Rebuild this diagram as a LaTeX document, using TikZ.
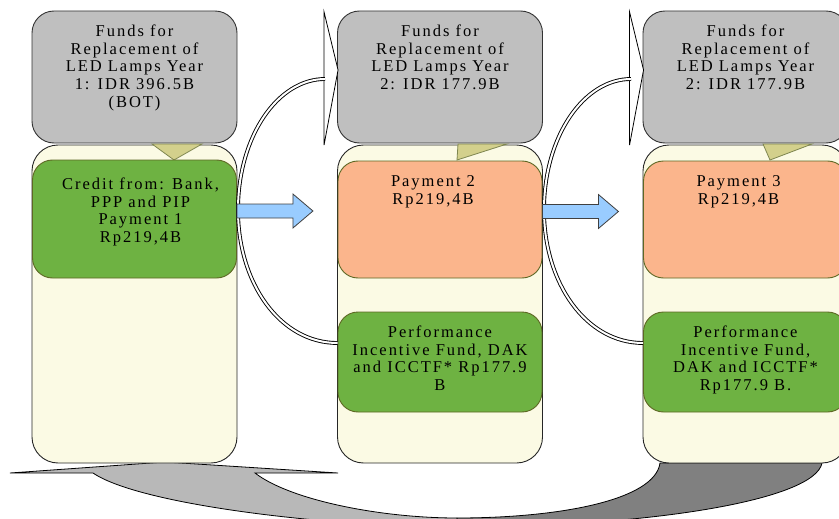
\documentclass[tikz,border=0pt]{standalone}
\usepackage{fontspec}
\setmainfont{Liberation Serif}[LetterSpace=12]
\usetikzlibrary{positioning,calc}
\definecolor{fundgray}{RGB}{191,191,191}
\definecolor{cream}{RGB}{251,250,228}
\definecolor{creditgreen}{RGB}{110,178,66}
\definecolor{payorange}{RGB}{251,181,140}
\definecolor{olive}{RGB}{94,104,36}
\definecolor{tabolive}{RGB}{211,208,140}
\definecolor{arrowblue}{RGB}{153,204,255}
\definecolor{bandlight}{RGB}{184,184,184}
\definecolor{banddark}{RGB}{128,128,128}

\begin{document}
\begin{tikzpicture}[x=1pt,y=-1pt,
fundbox/.style={draw=black!80,line width=0.9pt,fill=fundgray,rounded corners=22pt,minimum width=205pt,minimum height=132pt,inner sep=0pt},
colbox/.style={draw=black!85,line width=0.9pt,fill=cream,rounded corners=26pt,minimum width=205pt,minimum height=318pt,inner sep=0pt},
inbox/.style={draw=olive,line width=0.9pt,rounded corners=20pt,minimum width=204pt,inner sep=0pt},
txt/.style={align=center,inner sep=0pt,font=\fontsize{16.5}{17.7}\selectfont},
tab/.style={draw=olive!80,fill=tabolive,line width=0.8pt},
bluearrow/.style={draw=black!75,fill=arrowblue,line width=0.8pt},
loophead/.style={draw=black,fill=white,line width=0.8pt},
loopline/.style={draw=black,line width=0.9pt,double=white,double distance=2pt},
band/.style={draw=black,line width=0.8pt}]
\useasboundingbox (0,0) rectangle (839,519);

\draw[band,fill=banddark] (457,518) .. controls (560,518) and (655,500) .. (660,463) -- (822,463) .. controls (815,500) and (650,527) .. (457,527) -- cycle;
\draw[band,fill=bandlight] (10,473) -- (93,473) .. controls (140,505) and (330,527) .. (457,527) -- (457,518) .. controls (380,518) and (290,500) .. (255,473) -- (338,473) -- (165,462) -- cycle;

\node[colbox] (col1) at (134.5,304) {};
\node[colbox] (col2) at (440,304) {};
\node[colbox] (col3) at (745.5,304) {};
\node[fundbox] (fund1) at (134.5,77) {};
\node[fundbox] (fund2) at (440,77) {};
\node[fundbox] (fund3) at (745.5,77) {};

\draw[tab] (152,144) -- (202,144) -- (174,160) -- cycle;
\draw[tab] (458,144) -- (507,144) -- (457,160) -- cycle;
\draw[tab] (763,144) -- (812,144) -- (770,160) -- cycle;

\node[inbox,fill=creditgreen,minimum height=118pt] (credit1) at (134.5,219) {};
\node[inbox,fill=payorange,minimum height=117pt] (pay2) at (440,219.5) {};
\node[inbox,fill=payorange,minimum height=117pt] (pay3) at (745.5,219.5) {};
\node[inbox,fill=creditgreen,minimum height=100pt] (perf2) at (440,362) {};
\node[inbox,fill=creditgreen,minimum height=100pt] (perf3) at (745.5,362) {};

\node[txt,below=14pt of fund1.north] (fund1txt) {Funds for\\Replacement of\\LED Lamps Year\\1: IDR 396.5B\\(BOT)};
\node[txt,below=14pt of fund2.north] (fund2txt) {Funds for\\Replacement of\\LED Lamps Year\\2: IDR 177.9B};
\node[txt,below=14pt of fund3.north] (fund3txt) {Funds for\\Replacement of\\LED Lamps Year\\2: IDR 177.9B};
\node[txt,below=18pt of credit1.north,xshift=6pt] (credit1txt) {Credit from: Bank,\\PPP and PIP\\Payment 1\\Rp219,4B};
\node[txt,below=15pt of pay2.north,xshift=-7pt] (pay2txt) {Payment 2\\Rp219,4B};
\node[txt,below=15pt of pay3.north,xshift=-7pt] (pay3txt) {Payment 3\\Rp219,4B};
\node[txt,below=14pt of perf2.north] (perf2txt) {Performance\\Incentive Fund, DAK\\and ICCTF* Rp177.9\\B};
\node[txt,below=14pt of perf3.north] (perf3txt) {Performance\\Incentive Fund,\\DAK and ICCTF*\\Rp177.9 B.};

\foreach \n/\dx in {2/0,3/306}{
\draw[loophead] ($(fund\n.west)+(-13,-65)$) -- ($(fund\n.west)+(1,-7)$) -- ($(fund\n.west)+(-13,68)$) -- cycle;
\draw[loopline] ([yshift=19pt]perf\n.west) .. controls (280+\dx,343) and (238+\dx,283) .. (238+\dx,210) .. controls (238+\dx,136) and (278+\dx,79) .. (325+\dx,79);
}

\draw[bluearrow] ([yshift=15pt]credit1.east) -- ++(56,0) -- ++(0,-10) -- ++(20,17) -- ++(-20,17) -- ++(0,-10) -- ++(-56,0) -- cycle;
\draw[bluearrow] ([yshift=15pt]pay2.east) -- ++(56,0) -- ++(0,-10) -- ++(20,17) -- ++(-20,17) -- ++(0,-10) -- ++(-56,0) -- cycle;
\end{tikzpicture}
\end{document}
